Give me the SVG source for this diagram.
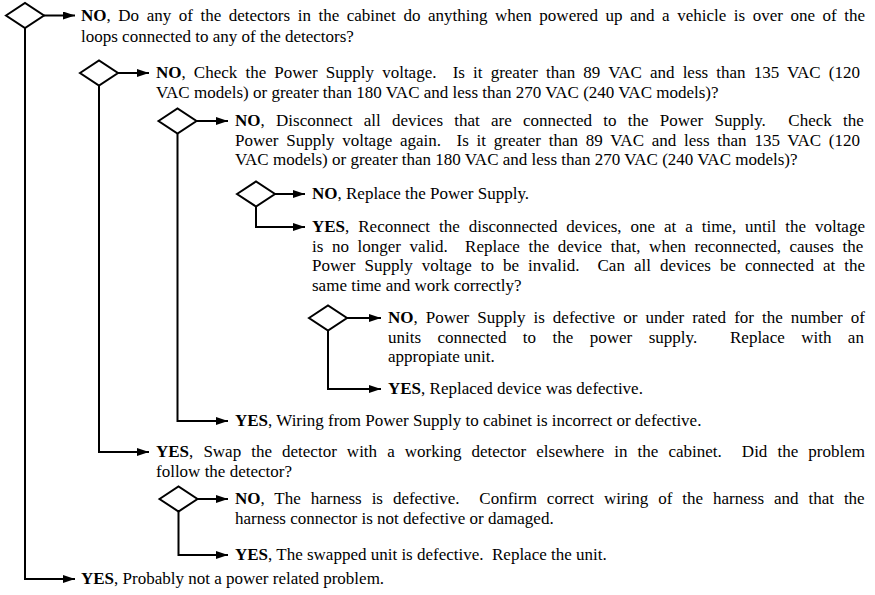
<svg xmlns="http://www.w3.org/2000/svg" width="875" height="595" viewBox="0 0 875 595" xml:space="preserve">
<defs>
<marker id="ah" viewBox="0 0 12 8" refX="12" refY="4" markerWidth="12" markerHeight="8" markerUnits="userSpaceOnUse" orient="auto"><path d="M0,0 L12,4 L0,8 Z" fill="#000"/></marker>
<style>
text{font-family:"Liberation Serif","Times New Roman",serif;font-size:17px;fill:#000;white-space:pre}
.b{font-weight:bold}
.d{fill:#fff;stroke:#000;stroke-width:2}
.c path{fill:none;stroke:#000;stroke-width:2}
.c .a{marker-end:url(#ah)}
</style>
</defs>
<rect width="875" height="595" fill="#fff"/>
<g class="c" id="connectors">
<path class="a" d="M44,15.5 H75"/>
<path class="a" d="M25,28 V579 H75"/>
<path class="a" d="M118,73 H149"/>
<path class="a" d="M99,85.5 V452 H149"/>
<path class="a" d="M196.5,121 H228"/>
<path class="a" d="M177.5,133.5 V421 H228"/>
<path class="a" d="M275,194 H305"/>
<path class="a" d="M256,206.5 V227 H305"/>
<path class="a" d="M347,318 H381"/>
<path class="a" d="M328,330.5 V389 H381"/>
<path class="a" d="M197.5,499 H228"/>
<path class="a" d="M178.5,511.5 V555 H228"/>
</g>
<g id="q1">
<path class="d" d="M6,15.5 L25,3 L44,15.5 L25,28 Z"/>
<text x="81" y="21" style="word-spacing:3.3px"><tspan class="b">NO</tspan>, Do any of the detectors in the cabinet do anything when powered up and a vehicle is over one of the</text>
<text x="81" y="41.5">loops connected to any of the detectors?</text>
</g>
<g id="q2">
<path class="d" d="M80,73 L99,60.5 L118,73 L99,85.5 Z"/>
<text x="156" y="78" xml:space="preserve" style="word-spacing:3.87px"><tspan class="b">NO</tspan>, Check the Power Supply voltage.  Is it greater than 89 VAC and less than 135 VAC (120</text>
<text x="156" y="97.5">VAC models) or greater than 180 VAC and less than 270 VAC (240 VAC models)?</text>
</g>
<g id="q3">
<path class="d" d="M158.5,121 L177.5,108.5 L196.5,121 L177.5,133.5 Z"/>
<text x="235" y="126" xml:space="preserve" style="word-spacing:7.02px"><tspan class="b">NO</tspan>, Disconnect all devices that are connected to the Power Supply.  Check the</text>
<text x="235" y="145.5" xml:space="preserve" style="word-spacing:3.52px">Power Supply voltage again.  Is it greater than 89 VAC and less than 135 VAC (120</text>
<text x="235" y="165">VAC models) or greater than 180 VAC and less than 270 VAC (240 VAC models)?</text>
</g>
<g id="q4">
<path class="d" d="M237,194 L256,181.5 L275,194 L256,206.5 Z"/>
<text x="312" y="199"><tspan class="b">NO</tspan>, Replace the Power Supply.</text>
</g>
<g id="q5">
<text x="312" y="232" style="word-spacing:4.69px"><tspan class="b">YES</tspan>, Reconnect the disconnected devices, one at a time, until the voltage</text>
<text x="312" y="251.5" xml:space="preserve" style="word-spacing:4.36px">is no longer valid.  Replace the device that, when reconnected, causes the</text>
<text x="312" y="271" xml:space="preserve" style="word-spacing:4.77px">Power Supply voltage to be invalid.  Can all devices be connected at the</text>
<text x="312" y="290.5">same time and work correctly?</text>
<path class="d" d="M309,318 L328,305.5 L347,318 L328,330.5 Z"/>
</g>
<g id="r1">
<text x="388" y="323" style="word-spacing:3.79px"><tspan class="b">NO</tspan>, Power Supply is defective or under rated for the number of</text>
<text x="388" y="342.5" xml:space="preserve" style="word-spacing:12.19px">units connected to the power supply.  Replace with an</text>
<text x="388" y="362">appropiate unit.</text>
</g>
<g id="r2">
<text x="388" y="394"><tspan class="b">YES</tspan>, Replaced device was defective.</text>
</g>
<g id="r3">
<text x="235" y="426"><tspan class="b">YES</tspan>, Wiring from Power Supply to cabinet is incorrect or defective.</text>
</g>
<g id="q6">
<text x="156" y="457" xml:space="preserve" style="word-spacing:5.81px"><tspan class="b">YES</tspan>, Swap the detector with a working detector elsewhere in the cabinet.  Did the problem</text>
<text x="156" y="476.5">follow the detector?</text>
<path class="d" d="M159.5,499 L178.5,486.5 L197.5,499 L178.5,511.5 Z"/>
</g>
<g id="r4">
<text x="235" y="504" xml:space="preserve" style="word-spacing:5.68px"><tspan class="b">NO</tspan>, The harness is defective.  Confirm correct wiring of the harness and that the</text>
<text x="235" y="523.5">harness connector is not defective or damaged.</text>
</g>
<g id="r5">
<text x="235" y="560" xml:space="preserve"><tspan class="b">YES</tspan>, The swapped unit is defective.  Replace the unit.</text>
</g>
<g id="r6">
<text x="81" y="584"><tspan class="b">YES</tspan>, Probably not a power related problem.</text>
</g>
</svg>
